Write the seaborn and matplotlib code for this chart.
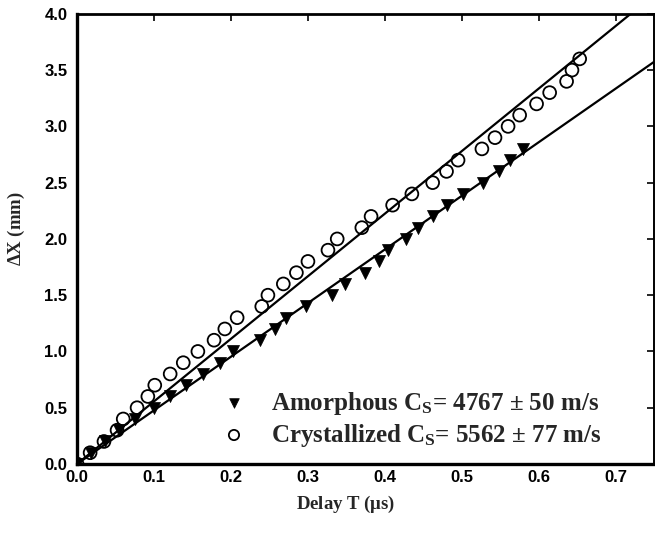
import matplotlib
matplotlib.use("Agg")
import matplotlib.pyplot as plt
import seaborn as sns
import numpy as np
import pandas as pd

# ---- data ----
cryst_T = [0.0, 0.017, 0.035, 0.052, 0.060, 0.078, 0.092, 0.101, 0.121, 0.138,
           0.157, 0.178, 0.192, 0.208, 0.240, 0.248, 0.268, 0.285, 0.300, 0.326,
           0.338, 0.370, 0.382, 0.410, 0.435, 0.462, 0.480, 0.495, 0.526, 0.543,
           0.560, 0.575, 0.597, 0.614, 0.636, 0.643, 0.653]
cryst_X = [round(0.1 * k, 1) for k in range(37)]

amor_T = [0.0, 0.018, 0.036, 0.054, 0.075, 0.100, 0.121, 0.141, 0.164, 0.186,
          0.203, 0.238, 0.257, 0.272, 0.298, 0.331, 0.348, 0.374, 0.392, 0.404,
          0.428, 0.443, 0.462, 0.480, 0.502, 0.527, 0.548, 0.562, 0.579]
amor_X = [round(0.1 * k, 1) for k in range(29)]

v_amor = 4767   # m/s
v_cryst = 5562  # m/s
fit_T = [0.0, 0.75]

x_ticks = [0.0, 0.1, 0.2, 0.3, 0.4, 0.5, 0.6, 0.7]
y_ticks = [0.0, 0.5, 1.0, 1.5, 2.0, 2.5, 3.0, 3.5, 4.0]

sns.set_style("white")
plt.rcParams['font.family'] = ['Liberation Serif', 'DejaVu Serif']
plt.rcParams['mathtext.fontset'] = 'custom'
plt.rcParams['mathtext.rm'] = 'Liberation Serif:bold'
plt.rcParams['mathtext.bf'] = 'Liberation Serif:bold'
plt.rcParams['mathtext.it'] = 'Liberation Serif:bold'

fig = plt.figure(figsize=(6.55, 5.33), dpi=100)
ax = fig.add_axes([0.1176, 0.1295, 0.8814, 0.8445])

fitdf = pd.DataFrame({
    "T": fit_T * 2,
    "X": [v_amor / 1000 * t for t in fit_T] + [v_cryst / 1000 * t for t in fit_T],
    "s": ["a", "a", "c", "c"],
})
for s in ["a", "c"]:
    sns.lineplot(data=fitdf[fitdf.s == s], x="T", y="X", color="black",
                 lw=1.6, ax=ax, legend=False)

sns.scatterplot(x=amor_T, y=amor_X, marker="v", s=75, color="black",
                edgecolor="black", linewidth=0.5, ax=ax, zorder=3,
                label=r"Amorphous C$_\mathrm{S}$= 4767 $\pm$ 50 m/s")
sns.scatterplot(x=cryst_T, y=cryst_X, marker="o", s=85, facecolor="none",
                edgecolor="black", linewidth=1.3, ax=ax, zorder=3,
                label=r"Crystallized C$_\mathrm{S}$= 5562 $\pm$ 77 m/s")

ax.set_xlim(0, 0.75)
ax.set_ylim(0, 4.0)
ax.set_xticks(x_ticks)
ax.set_yticks(y_ticks)
ax.set_xticklabels([f"{v:.1f}" for v in x_ticks], family="Liberation Sans",
                   fontweight="bold", fontsize=12)
ax.set_yticklabels([f"{v:.1f}" for v in y_ticks], family="Liberation Sans",
                   fontweight="bold", fontsize=12)
ax.tick_params(direction="in", length=5, width=1.2, top=True, right=True,
               colors="black")
ax.tick_params(axis="x", pad=4)
ax.tick_params(axis="y", pad=7)
for side, w in [("left", 2.4), ("bottom", 2.4), ("top", 2.0), ("right", 1.4)]:
    ax.spines[side].set_linewidth(w)
    ax.spines[side].set_color("black")

ax.set_xlabel(r"Delay T ($\mu$s)", fontsize=13.5, fontweight="bold")
ax.set_ylabel(r"$\Delta$X (mm)", fontsize=13.5, fontweight="bold")
ax.xaxis.set_label_coords(0.466, -0.067)
ax.yaxis.set_label_coords(-0.087, 0.522)

leg = ax.legend(loc="lower right", bbox_to_anchor=(0.927, 0.012), frameon=False,
                prop={"family": "Liberation Serif", "weight": "bold", "size": 18},
                handletextpad=0.5, labelspacing=0.2, borderaxespad=0.0,
                markerscale=0.8)

fig.savefig("out.png", dpi=100)
